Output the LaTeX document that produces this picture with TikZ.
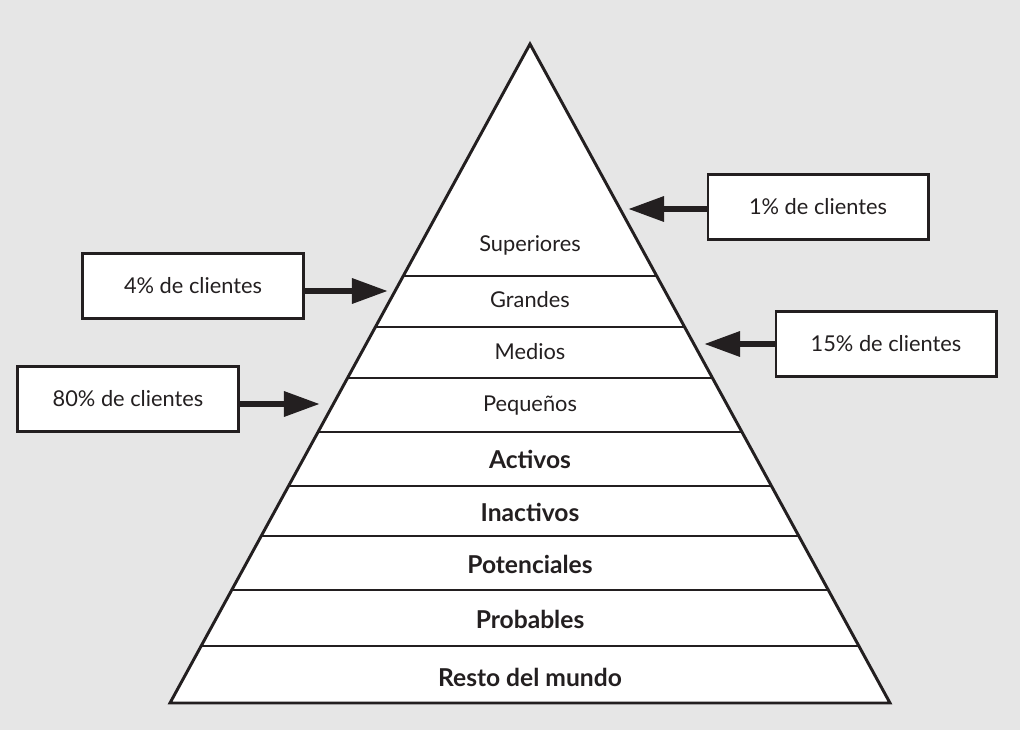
\documentclass[tikz,border=0pt]{standalone}
\usepackage{fontspec}
\setmainfont{Lato}
\usetikzlibrary{positioning, arrows.meta, calc}
\definecolor{ink}{HTML}{231F20}
\definecolor{backgr}{HTML}{E6E6E6}

\begin{document}
\begin{tikzpicture}[x=0.025cm, y=-0.025cm, line width=2.1pt, draw=ink, text=ink,
    font=\fontsize{15.5}{18}\selectfont,
    strong/.style={font=\fontsize{17.5}{20}\selectfont\bfseries},
    share/.style={draw, fill=white, line width=2.1pt, minimum width=5.5cm, minimum height=1.62cm},
    point/.style={line width=4.5pt, -{Triangle[length=0.9cm, width=0.6cm]}}]
        \fill[backgr] (0,0) rectangle (1020,730);
        \useasboundingbox (0,0) rectangle (1020,730);

        % pyramid
        \fill[white] (530,44) -- (170,703) -- (890,703) -- cycle;
        \foreach \y in {276,327,378,432,486,536,590,646}
          \draw ({530-(\y-44)*0.5463},\y) -- ({530+(\y-44)*0.5463},\y);
        \draw[line join=miter] (530,44) -- (170,703) -- (890,703) -- cycle;

        \node (sup) at (530,245) {Superiores};
        \node (gra) at (530,300) {Grandes};
        \node (med) at (530,352) {Medios};
        \node (peq) at (530,406) {Pequeños};
        \node[strong] (act) at (530,459) {Activos};
        \node[strong] (ina) at (530,512) {Inactivos};
        \node[strong] (pot) at (530,564) {Potenciales};
        \node[strong] (pro) at (530,619) {Probables};
        \node[strong] (res) at (530,677) {Resto del mundo};

        % shares of clients
        \node[share] (c1)  at (818,207) {1\% de clientes};
        \node[share] (c4)  at (193,286) {4\% de clientes};
        \node[share] (c15) at (886,344) {15\% de clientes};
        \node[share] (c80) at (128,399) {80\% de clientes};

        \coordinate (t1)  at (628,209);
        \coordinate (t4)  at (388,291);
        \coordinate (t15) at (704,344);
        \coordinate (t80) at (320,404);

        \draw[point] (c1.west |- t1)  -- (t1);
        \draw[point] (c4.east |- t4)  -- (t4);
        \draw[point] (c15.west |- t15) -- (t15);
        \draw[point] (c80.east |- t80) -- (t80);
\end{tikzpicture}
\end{document}
